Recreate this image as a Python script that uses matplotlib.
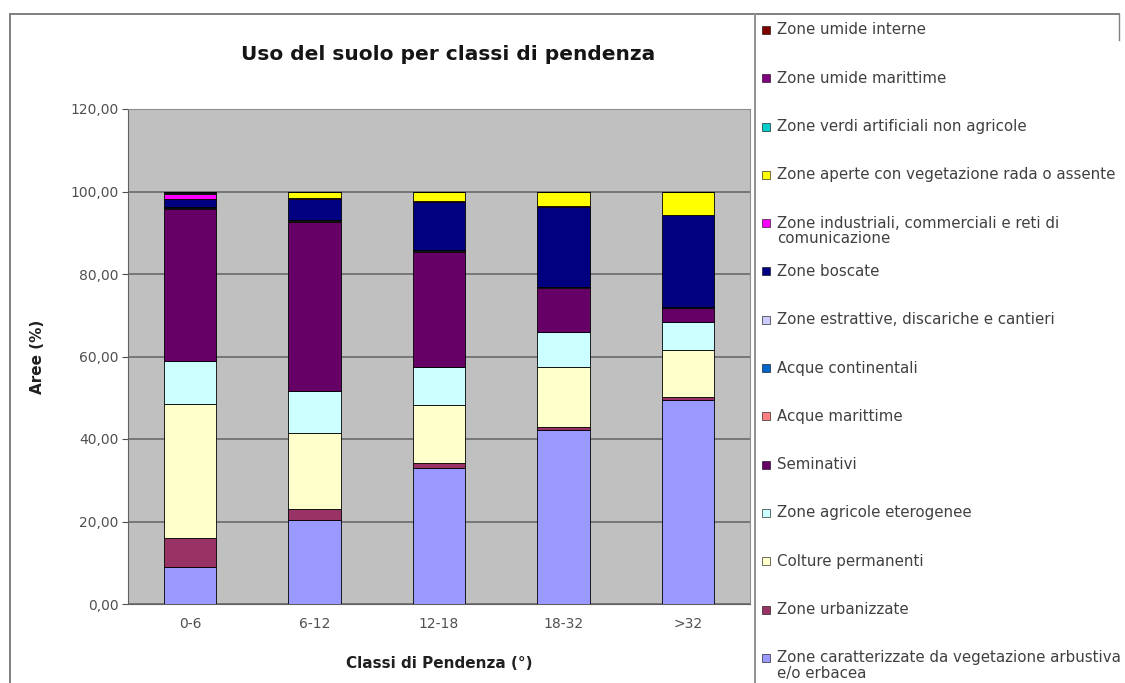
import numpy as np
import matplotlib
matplotlib.use("Agg")
import matplotlib.pyplot as plt
from matplotlib.patches import Rectangle
from matplotlib.lines import Line2D

plt.rcParams['font.family'] = ['DejaVu Sans']

# Classi di pendenza
classi = ["0-6", "6-12", "12-18", "18-32", ">32"]

# Serie (dal basso verso l'alto), valori in % di area
veg_arbustiva = [9.0, 20.4, 32.9, 42.2, 49.5]
urbanizzate = [7.1, 2.6, 1.2, 0.8, 0.8]
colture_perm = [32.5, 18.4, 14.1, 14.5, 11.3]
agricole_eter = [10.4, 10.3, 9.3, 8.5, 6.8]
seminativi = [36.8, 41.0, 27.9, 10.5, 3.3]
acque_marittime = [0.1, 0.05, 0.1, 0.1, 0.1]
acque_continentali = [0.3, 0.15, 0.1, 0.1, 0.1]
estrattive = [0.1, 0.1, 0.1, 0.1, 0.1]
boscate = [1.9, 5.3, 11.8, 19.5, 22.3]
industriali = [1.3, 0.2, 0.1, 0.1, 0.1]
aperte = [0.1, 1.3, 2.2, 3.4, 5.4]
verdi_artificiali = [0.2, 0.1, 0.1, 0.1, 0.1]
umide_marittime = [0.1, 0.05, 0.05, 0.05, 0.05]
umide_interne = [0.1, 0.05, 0.05, 0.05, 0.05]

serie = [
    ("Zone caratterizzate da vegetazione arbustiva\ne/o erbacea", veg_arbustiva, "#9999FF"),
    ("Zone urbanizzate", urbanizzate, "#993366"),
    ("Colture permanenti", colture_perm, "#FFFFCC"),
    ("Zone agricole eterogenee", agricole_eter, "#CCFFFF"),
    ("Seminativi", seminativi, "#660066"),
    ("Acque marittime", acque_marittime, "#FF8080"),
    ("Acque continentali", acque_continentali, "#0066CC"),
    ("Zone estrattive, discariche e cantieri", estrattive, "#CCCCFF"),
    ("Zone boscate", boscate, "#000080"),
    ("Zone industriali, commerciali e reti di\ncomunicazione", industriali, "#FF00FF"),
    ("Zone aperte con vegetazione rada o assente", aperte, "#FFFF00"),
    ("Zone verdi artificiali non agricole", verdi_artificiali, "#00CCCC"),
    ("Zone umide marittime", umide_marittime, "#800080"),
    ("Zone umide interne", umide_interne, "#800000"),
]

W, H = 1125, 683
fig = plt.figure(figsize=(W / 100, H / 100), dpi=100)
fig.patch.set_facecolor("white")

ax = fig.add_axes([128 / W, 1 - 604 / H, (750 - 128) / W, (604 - 109) / H])
ax.set_facecolor("#C0C0C0")

x = np.arange(len(classi))
base = np.zeros(len(classi))
for nome, vals, col in serie:
    v = np.array(vals)
    ax.bar(x, v, 0.42, bottom=base, color=col, edgecolor="#000000", linewidth=0.6, zorder=3)
    base += v

ax.set_ylim(0, 120)
ax.set_xlim(-0.5, len(classi) - 0.5)
ax.set_yticks(np.arange(0, 121, 20))
ax.set_yticklabels([f"{t:.2f}".replace(".", ",") for t in np.arange(0, 121, 20)])
ax.set_xticks(x)
ax.set_xticklabels(classi)
ax.grid(axis="y", color="#6a6a6a", linewidth=1.2, zorder=1)
ax.tick_params(axis="both", labelsize=10, colors="#505050", length=4, width=0.8)
ax.tick_params(axis="y", pad=3)
ax.tick_params(axis="x", length=0, pad=9)
for s in ["top", "right"]:
    ax.spines[s].set_color("#909090")
for s in ["left", "bottom"]:
    ax.spines[s].set_color("#606060")

ax.set_xlabel("Classi di Pendenza (°)", fontsize=11, fontweight="bold", labelpad=18, color="#202020")
ax.set_ylabel("Aree (%)", fontsize=11, fontweight="bold", labelpad=18, color="#202020")

fig.text(448 / W, 1 - 55 / H, "Uso del suolo per classi di pendenza",
         fontsize=14.5, fontweight="bold", ha="center", va="center", color="#151515")

# cornice del grafico e della legenda
fig.add_artist(Line2D([10 / W, 1119 / W], [1 - 14 / H, 1 - 14 / H], color="#808080", lw=1.4))
fig.add_artist(Line2D([10 / W, 10 / W], [0, 1 - 14 / H], color="#808080", lw=1.4))
fig.add_artist(Line2D([1119 / W, 1119 / W], [1 - 14 / H, 1 - 40 / H], color="#808080", lw=1.0))
fig.add_artist(Line2D([755 / W, 755 / W], [0, 1 - 14 / H], color="#909090", lw=1.4))

# legenda (ordine inverso rispetto all'impilamento)
y0, dy = 30, 48.3
for i, (nome, vals, col) in enumerate(serie[::-1]):
    yc = y0 + i * dy
    fig.add_artist(Rectangle((762 / W, 1 - (yc + 4) / H), 8 / W, 8 / H,
                             facecolor=col, edgecolor="#000000", linewidth=0.4))
    fig.text(777 / W, 1 - (yc - 7.5) / H, nome, fontsize=10.8, color="#404040",
             ha="left", va="top", linespacing=1.05)

fig.savefig("out.png", dpi=100)
